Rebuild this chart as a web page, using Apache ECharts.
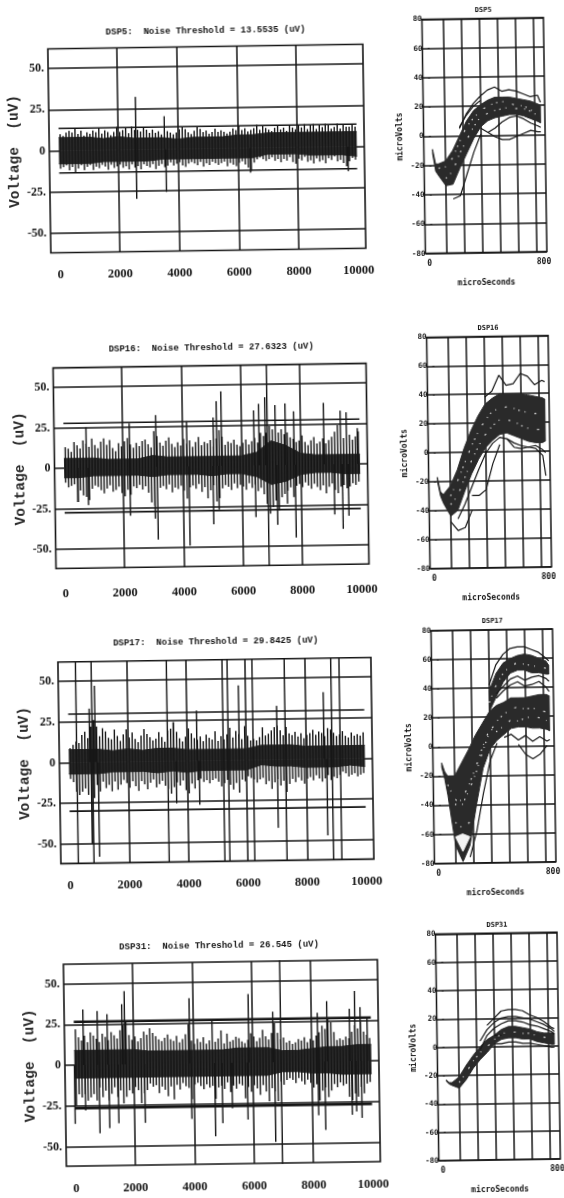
<!DOCTYPE html>
<html><head><meta charset="utf-8">
<style>
html,body{margin:0;padding:0;width:564px;height:1198px;overflow:hidden;background:#fff}
#c{width:564px;height:1198px;transform:rotate(-0.85deg);transform-origin:282px 599px;filter:blur(0.45px)}
</style>
<script src="https://cdn.jsdelivr.net/npm/echarts@6/dist/echarts.min.js"></script>
</head><body><div id="c"></div>
<script>
// ---------- shared axis content ----------
const noiseXTicks = [0,2000,4000,6000,8000,10000];
const noiseXGrid = [2000,4000,6000,8000];
const noiseYTicks = [-50,-25,0,25,50];
const noiseYLabels = {'-50':'-50.','-25':'-25.','0':'0','25':'25.','50':'50.'};
const waveXGrid = [100,225,350,475,600,725];
const waveXTicks = [0,800];
const waveX = [10,30,50,100,150,200,250,300,350,400,450,500,550,600,650,700,750,770];
const coreX = [0,500,1000,1500,2000,2500,3000,3500,4000,4500,5000,5500,6000,6500,7000,7500,8000,8500,9000,9500,10000];

// ---------- DSP5 ----------
const dsp5Threshold = 13.5535;
const dsp5CoreHigh = [8,8,8,7,8,7,7,7,6,7,7,7,8,8,9,9,9,9,9,9,9];
const dsp5CoreLow = [-8,-8,-8,-7,-7,-7,-7,-6,-6,-6,-6,-6,-6,-6,-4,-4,-4,-5,-5,-5,-6];
const dsp5High = [10,9,11,12,11,13,10,12,9,11,10,12,11,13,10,12,11,9,11,14,11,12,13,10,14,12,12,11,13,12,10,12,10,11,9,11,11,10,9,10,12,13,12,10,9,11,13,12,10,11,9,10,12,10,11,10,9,10,12,11,13,11,12,10,11,12,14,11,13,12,11,10,12,13,11,12,10,13,12,11,13,12,14,11,13,14,11,13,12,14,13,11,12,14,11,13,12,12,13,12];
const dsp5Low = [-11,-10,-9,-12,-10,-13,-11,-9,-12,-10,-9,-12,-10,-11,-9,-10,-12,-9,-11,-10,-9,-11,-10,-12,-9,-11,-10,-12,-9,-10,-11,-9,-12,-10,-9,-11,-10,-8,-10,-9,-8,-10,-11,-9,-8,-9,-10,-8,-11,-9,-10,-8,-9,-10,-9,-8,-11,-9,-10,-11,-9,-8,-10,-12,-14,-9,-7,-6,-7,-8,-7,-6,-8,-7,-9,-7,-8,-6,-9,-10,-7,-8,-6,-9,-8,-10,-7,-9,-8,-10,-7,-8,-6,-9,-8,-10,-12,-9,-7,-8];
const dsp5UpX = [2590,3550];
const dsp5UpV = [32,20];
const dsp5DownX = [2590,3590,6420,9700];
const dsp5DownV = [-30,-26,-15,-15];
const dsp5FullX = [];

// ---------- DSP16 ----------
const dsp16Threshold = 27.6323;
const dsp16CoreHigh = [6,6,6,5,5,5,7,6,6,6,6,6,6,8,15,12,7,6,6,6,6];
const dsp16CoreLow = [-6,-6,-5,-5,-5,-5,-6,-5,-5,-5,-6,-5,-5,-7,-12,-10,-6,-5,-5,-6,-6];
const dsp16High = [13,12,10,16,14,12,17,15,13,18,14,12,16,18,14,17,12,10,15,13,16,18,14,12,15,13,16,17,14,12,22,19,15,13,16,18,14,12,15,13,17,14,16,12,15,18,13,15,14,16,12,17,22,18,13,15,14,16,13,12,14,16,13,15,17,14,20,18,20,24,22,24,20,22,19,20,17,16,14,15,18,14,12,15,17,13,14,16,13,15,17,20,24,18,16,22,18,15,17,20];
const dsp16Low = [-9,-12,-11,-10,-21,-14,-17,-18,-20,-13,-11,-12,-14,-16,-13,-11,-15,-14,-12,-16,-18,-14,-17,-12,-13,-11,-14,-12,-16,-22,-24,-15,-13,-12,-14,-11,-16,-13,-14,-12,-15,-20,-13,-12,-14,-11,-16,-13,-20,-15,-12,-22,-20,-14,-12,-13,-15,-11,-14,-12,-13,-15,-11,-14,-12,-16,-14,-18,-24,-30,-26,-22,-28,-20,-18,-16,-14,-20,-13,-12,-14,-11,-13,-15,-12,-14,-16,-13,-18,-14,-12,-16,-18,-14,-13,-15,-14,-12,-13,-11];
const dsp16UpX = [760,2220,3120,4160,5056,5170,5330,6430,6600,6810,7150,7490,7780,8790,9350,9550,9920];
const dsp16UpV = [25,27,32,28,30,40,46,34,38,42,37,38,33,38,33,32,22];
const dsp16DownX = [470,810,2220,3060,3150,4220,5030,5220,6460,6880,7190,7530,7810,9120,9400,9600];
const dsp16DownV = [-21,-23,-30,-32,-45,-49,-36,-27,-32,-55,-37,-24,-45,-31,-40,-32];
const dsp16FullX = [6880];

// ---------- DSP17 ----------
const dsp17Threshold = 29.8425;
const dsp17CoreHigh = [8,8,8,7,8,7,8,8,7,7,7,7,7,9,9,9,8,8,8,8,8];
const dsp17CoreLow = [-7,-7,-7,-6,-6,-6,-7,-6,-7,-6,-6,-6,-6,-3,-4,-4,-5,-5,-5,-4,-5];
const dsp17High = [9,11,13,12,17,19,15,22,26,22,16,21,19,15,14,20,16,13,17,20,15,18,14,12,16,20,17,15,13,14,18,15,12,19,20,24,18,14,12,15,20,17,14,13,15,12,16,14,13,18,12,15,13,16,20,14,18,16,13,21,15,12,13,12,14,20,15,16,18,20,21,18,15,20,16,15,17,14,16,13,15,16,18,15,17,16,14,19,18,16,14,15,17,14,13,16,14,15,14,16];
const dsp17Low = [-10,-12,-18,-20,-18,-16,-20,-16,-22,-14,-18,-12,-16,-14,-18,-12,-17,-14,-11,-13,-16,-12,-15,-18,-12,-14,-17,-13,-11,-16,-14,-12,-15,-17,-20,-16,-13,-15,-12,-18,-20,-14,-17,-12,-11,-13,-12,-14,-12,-11,-13,-16,-14,-12,-15,-18,-14,-20,-12,-13,-10,-11,-12,-14,-12,-11,-15,-13,-18,-14,-12,-16,-13,-20,-15,-12,-14,-11,-13,-15,-12,-11,-13,-10,-12,-14,-12,-10,-13,-11,-12,-10,-8,-9,-11,-10,-9,-11,-10,-9];
const dsp17UpX = [710,900,3540,4330,5760,7040,8620];
const dsp17UpV = [33,47,24,31,46,33,41];
const dsp17DownX = [750,990,3620,4400,7040,8710];
const dsp17DownV = [-50,-58,-26,-27,-42,-47];
const dsp17FullX = [270,800,3340,5220,5390,6230,7320,8890,9170];

// ---------- DSP31 ----------
const dsp31Threshold = 26.545;
const dsp31CoreHigh = [9,9,9,9,9,8,8,8,8,8,8,9,9,9,7,7,8,9,9,10,10];
const dsp31CoreLow = [-8,-8,-8,-8,-8,-8,-8,-8,-8,-8,-8,-8,-8,-8,-6,-6,-7,-7,-8,-8,-8];
const dsp31High = [22,17,15,18,14,20,18,16,14,19,17,15,20,18,16,21,24,26,18,15,17,14,16,20,18,22,19,17,15,14,16,18,15,14,17,13,15,18,24,14,12,15,13,16,12,14,18,13,15,20,12,18,13,14,16,15,13,12,14,18,16,13,15,20,16,14,18,24,18,14,15,12,13,11,12,14,13,15,12,14,13,16,18,22,20,26,24,18,13,14,13,15,14,18,22,20,24,18,16,14];
const dsp31Low = [-25,-18,-20,-18,-22,-20,-18,-22,-14,-20,-16,-22,-18,-14,-20,-16,-24,-20,-16,-18,-14,-16,-24,-18,-16,-12,-14,-13,-18,-14,-16,-20,-14,-22,-13,-16,-12,-14,-15,-22,-13,-12,-14,-16,-13,-15,-14,-22,-15,-14,-16,-12,-18,-14,-16,-13,-14,-22,-15,-18,-14,-16,-20,-14,-18,-24,-16,-18,-24,-12,-14,-11,-10,-11,-13,-10,-12,-14,-11,-13,-16,-14,-24,-18,-16,-22,-18,-14,-16,-13,-15,-14,-22,-24,-20,-22,-16,-20,-14,-13];
const dsp31UpX = [310,790,1120,1620,1710,3890,4650,5880,6700,8200,8520,9280,9460,9640,9870];
const dsp31UpV = [34,33,31,37,45,40,27,42,31,30,37,32,43,33,27];
const dsp31DownX = [0,360,830,1160,1470,2360,3930,4720,4970,5300,5820,6740,8200,8430,9330,9480,9660];
const dsp31DownV = [-36,-28,-42,-39,-36,-36,-34,-45,-37,-28,-35,-49,-33,-42,-33,-31,-35];
const dsp31FullX = [6960];

// ---------- waveforms ----------
const wave5High = [-9,-19,-19,-17,-10,0,10,17,21,24,26,26,26,25,24,23,21,20];
const wave5Low = [-12,-24,-27,-34,-33,-22,-12,-2,6,10,12,13,14,14,13,11,9,8];
const wave5Lines = [
 [null,null,null,null,null,5,15,22,27,31,33,30,31,30,28,26,27,22],
 [null,null,null,null,null,null,null,null,5,2,-1,-3,-3,-1,1,3,2,2],
 [null,null,null,null,null,null,null,null,null,2,5,9,12,13,11,8,6,5],
 [null,null,null,null,-43,-41,-26,-11,1,null,null,null,null,null,null,null,null,null],
 [null,null,null,null,null,6,14,20,24,null,null,null,null,null,null,null,null,null]];
const wave5Gaps = [
 [null,null,-22,-21,-15,-4,6,12,17,20,22,23,22,20,20,17,15,null],
 [null,null,null,-29,-24,-12,-3,6,13,15,17,18,19,18,18,16,13,null]];

const wave16High = [-17,-27,-29,-23,-12,3,15,25,33,37,40,40,40,40,39,38,37,36];
const wave16Low = [-20,-30,-35,-44,-40,-27,-15,-5,3,8,12,13,11,9,7,6,6,7];
const wave16Lines = [
 [null,null,null,null,null,null,null,null,38,42,53,46,47,54,52,46,49,48],
 [null,null,null,-48,-54,-52,-40,null,null,null,null,null,null,null,null,null,null,null],
 [null,null,null,null,null,null,-30,-30,-26,-8,5,null,null,null,null,null,null,null],
 [null,null,null,null,null,null,null,null,null,null,null,9,3,2,3,2,-3,-17],
 [null,null,null,null,-46,-36,-24,-12,-1,6,10,9,6,4,3,4,1,-1]];
const wave16Gaps = [
 [null,null,null,-30,-20,-8,4,14,22,28,30,31,30,28,27,26,26,null],
 [null,null,null,-36,-30,-18,-6,4,12,18,22,22,21,18,16,15,15,null]];

const wave17High = [-11,-17,-20,-20,-11,-2,8,16,24,28,30,33,33,33,34,35,35,34];
const wave17Low = [-14,-22,-33,-68,-79,-68,-40,-15,-2,4,8,12,13,13,12,12,11,10];
const wave17UpperHigh = [null,null,null,null,null,null,null,null,38,50,57,60,62,63,62,60,58,55];
const wave17UpperLow = [null,null,null,null,null,null,null,null,24,34,44,50,52,52,50,50,49,49];
const wave17NotchHigh = [null,null,null,-62,-60,-62,null,null,null,null,null,null,null,null,null,null,null,null];
const wave17NotchLow = [null,null,null,-62,-72,-62,null,null,null,null,null,null,null,null,null,null,null,null];
const wave17Lines = [
 [null,null,null,null,null,null,null,null,42,56,63,67,68,68,66,64,60,58],
 [null,null,null,null,null,null,null,null,null,null,null,null,1,-6,-9,-6,0,null],
 [null,null,null,null,null,-76,-58,-32,-10,2,null,null,null,null,null,null,null,null],
 [null,null,null,null,null,null,null,null,null,33,38,42,44,41,42,44,40,37],
 [null,null,null,null,null,null,null,null,null,null,6,8,4,7,3,6,3,4],
 [null,null,null,null,null,null,null,null,null,36,41,46,48,45,47,48,46,44]];
const wave17Gaps = [
 [null,null,-26,-36,-40,-30,-18,-3,10,17,22,25,27,25,26,24,23,null],
 [null,null,null,-52,-56,-52,null,null,null,null,null,null,null,null,null,null,null,null],
 [null,null,null,-40,-36,-26,-14,0,12,10,14,18,17,19,20,19,17,null],
 [null,null,null,null,null,null,null,null,30,42,50,55,57,56,55,54,53,null]];

const wave31High = [-23,-25,-25,-21,-13,-6,0,5,8,12,14,14,13,12,10,9,9,9];
const wave31Low = [-24,-26,-27,-29,-23,-15,-9,-4,2,5,6,6,5,5,3,2,1,1];
const wave31Lines = [
 [null,null,null,null,null,null,null,15,20,25,26,26,25,22,20,17,13,12],
 [null,null,null,null,null,null,4,12,17,20,21,21,20,19,17,15,12,10],
 [null,null,null,null,null,null,null,null,8,8,null,null,null,null,null,null,null,null],
 [null,null,null,null,null,null,null,null,2,2,3,3,2,2,1,0,-1,-1],
 [null,null,null,null,null,null,-2,8,13,16,18,18,17,15,14,12,10,8]];
const wave31Gaps = [
 [null,null,null,-25,-18,-10,-4,0,5,9,10,10,9,9,7,6,5,null]];

// ---------- panels ----------
const noisePanels = [
 {title:'DSP5:  Noise Threshold = 13.5535 (uV)',top:45.5,bottom:249.5,left:56,right:371,titleX:209,titleY:26,labelGap:16,th:dsp5Threshold,coreHigh:dsp5CoreHigh,coreLow:dsp5CoreLow,high:dsp5High,low:dsp5Low,upX:dsp5UpX,upV:dsp5UpV,downX:dsp5DownX,downV:dsp5DownV,fullX:dsp5FullX,thWidth:1.6},
 {title:'DSP16:  Noise Threshold = 27.6323 (uV)',top:364.6,bottom:565.3,left:56.5,right:369.5,titleX:210,titleY:343,labelGap:19,th:dsp16Threshold,coreHigh:dsp16CoreHigh,coreLow:dsp16CoreLow,high:dsp16High,low:dsp16Low,upX:dsp16UpX,upV:dsp16UpV,downX:dsp16DownX,downV:dsp16DownV,fullX:dsp16FullX,thWidth:1.6},
 {title:'DSP17:  Noise Threshold = 29.8425 (uV)',top:658.7,bottom:860.4,left:57,right:370,titleX:210,titleY:637,labelGap:16,th:dsp17Threshold,coreHigh:dsp17CoreHigh,coreLow:dsp17CoreLow,high:dsp17High,low:dsp17Low,upX:dsp17UpX,upV:dsp17UpV,downX:dsp17DownX,downV:dsp17DownV,fullX:dsp17FullX,thWidth:1.6},
 {title:'DSP31:  Noise Threshold = 26.545 (uV)',top:961,bottom:1163,left:58,right:372,titleX:209,titleY:941,labelGap:16,th:dsp31Threshold,coreHigh:dsp31CoreHigh,coreLow:dsp31CoreLow,high:dsp31High,low:dsp31Low,upX:dsp31UpX,upV:dsp31UpV,downX:dsp31DownX,downV:dsp31DownV,fullX:dsp31FullX,thWidth:2.4}
];
const wavePanels = [
 {title:'DSP5',top:21.4,bottom:255.6,titleY:9,bands:[[wave5High,wave5Low]],lines:wave5Lines,gaps:wave5Gaps},
 {title:'DSP16',top:339.4,bottom:570.7,titleY:327,bands:[[wave16High,wave16Low]],lines:wave16Lines,gaps:wave16Gaps},
 {title:'DSP17',top:632.9,bottom:865.7,titleY:620,bands:[[wave17High,wave17Low],[wave17UpperHigh,wave17UpperLow],[wave17NotchHigh,wave17NotchLow,'#f4f4f4']],lines:wave17Lines,gaps:wave17Gaps},
 {title:'DSP31',top:936.3,bottom:1167.4,titleY:923.5,bands:[[wave31High,wave31Low]],lines:wave31Lines,gaps:wave31Gaps}
];

const INK='#161616', CORE='#2a2a2a';
const serif='"Liberation Serif"', narrow='"Liberation Sans Narrow","Liberation Serif"', mono='"DejaVu Sans Mono"', lmono='"Liberation Mono"';
const grid=[],xAxis=[],yAxis=[],title=[],series=[];

function splitStyle(w){return {show:true,lineStyle:{color:INK,width:w,type:'solid'}};}

noisePanels.forEach(p=>{
  const g=grid.length;
  grid.push({left:p.left,width:p.right-p.left,top:p.top,height:p.bottom-p.top,show:true,borderColor:INK,borderWidth:1.6,backgroundColor:'transparent'});
  xAxis.push({gridIndex:g,type:'value',min:-320,max:10250,
    axisLine:{show:false},axisTick:{show:false,customValues:noiseXGrid},splitLine:splitStyle(1.5),
    axisLabel:{customValues:noiseXTicks,margin:p.labelGap,fontFamily:narrow,fontWeight:'bold',fontSize:12.5,color:INK,hideOverlap:false,showMinLabel:true,showMaxLabel:true,formatter:v=>String(v)}});
  yAxis.push({gridIndex:g,type:'value',min:-62,max:62,name:'Voltage  (uV)',nameLocation:'middle',nameGap:27,nameMoveOverlap:false,
    nameTextStyle:{fontFamily:lmono,fontWeight:'bold',fontSize:14.5,color:'#2a2a2a'},
    axisLine:{show:false},axisTick:{show:false,customValues:noiseYTicks},splitLine:splitStyle(1.5),
    axisLabel:{customValues:noiseYTicks,margin:4,fontFamily:serif,fontWeight:'bold',fontSize:12,color:INK,formatter:v=>noiseYLabels[String(v)]}});
  title.push({text:p.title,left:p.titleX,top:p.titleY-6,textAlign:'center',textStyle:{fontFamily:lmono,fontWeight:'bold',fontSize:9,color:INK}});
  const base={type:'line',xAxisIndex:g,yAxisIndex:g,showSymbol:false,symbol:'none',silent:true,animation:false,connectNulls:false};
  const coreStyle={lineStyle:{color:CORE,width:1},itemStyle:{color:CORE},areaStyle:{color:CORE,opacity:1}};
  series.push({...base,name:'core high',data:coreX.map((x,i)=>[x,p.coreHigh[i]]),...coreStyle});
  series.push({...base,name:'core low',data:coreX.map((x,i)=>[x,p.coreLow[i]]),...coreStyle});
  const pts=[];
  p.high.forEach((h,i)=>{const x=50+100*i;pts.push([x,p.low[i]],[x,h],[x,null]);});
  p.upX.forEach((x,i)=>pts.push([x,0],[x,p.upV[i]],[x,null]));
  p.downX.forEach((x,i)=>pts.push([x,0],[x,p.downV[i]],[x,null]));
  p.fullX.forEach(x=>pts.push([x,-90],[x,90],[x,null]));
  series.push({...base,name:'trace',data:pts,clip:true,lineStyle:{color:INK,width:1.4}});
  [p.th,-p.th].forEach(t=>series.push({...base,name:'threshold',data:[[0,t],[10000,t]],lineStyle:{color:INK,width:p.thWidth}}));
});

wavePanels.forEach(p=>{
  const g=grid.length;
  grid.push({left:430.5,width:121.5,top:p.top,height:p.bottom-p.top,show:true,borderColor:INK,borderWidth:1.5,backgroundColor:'transparent'});
  xAxis.push({gridIndex:g,type:'value',min:-51,max:800,name:'microSeconds',nameLocation:'middle',nameGap:26,
    nameTextStyle:{fontFamily:mono,fontWeight:'bold',fontSize:8,color:INK},
    axisLine:{show:false},axisTick:{show:false,customValues:waveXGrid},splitLine:splitStyle(1.5),
    axisLabel:{customValues:waveXTicks,margin:6,padding:[0,6,0,0],fontFamily:mono,fontWeight:'bold',fontSize:8,color:INK,hideOverlap:false,showMinLabel:true,showMaxLabel:true}});
  yAxis.push({gridIndex:g,type:'value',min:-80,max:80,interval:20,name:'microVolts',nameLocation:'middle',nameGap:20,
    nameTextStyle:{fontFamily:mono,fontWeight:'bold',fontSize:8,color:INK},
    axisLine:{show:false},axisTick:{show:true,length:2,lineStyle:{color:INK}},splitLine:splitStyle(1.5),
    axisLabel:{margin:0,fontFamily:mono,fontWeight:'bold',fontSize:7.5,color:INK,showMinLabel:true,showMaxLabel:true}});
  title.push({text:p.title,left:487,top:p.titleY-4,textAlign:'center',textStyle:{fontFamily:mono,fontWeight:'bold',fontSize:7,color:INK}});
  const base={xAxisIndex:g,yAxisIndex:g,silent:true,animation:false};
  p.bands.forEach(b=>{
    const fill=b[2]||CORE;
    series.push({...base,type:'custom',name:'waveform band',data:[[0]],clip:true,
      renderItem:(params,api)=>{
        const up=[],dn=[];
        waveX.forEach((x,i)=>{
          if(b[0][i]==null)return;
          up.push(api.coord([x,b[0][i]]));
          dn.unshift(api.coord([x,b[1][i]]));
        });
        return {type:'polygon',shape:{points:up.concat(dn)},style:{fill:fill,stroke:fill,lineWidth:1}};
      }});
  });
  p.lines.forEach(l=>series.push({...base,type:'line',name:'waveform',symbol:'none',showSymbol:false,connectNulls:false,
    data:waveX.map((x,i)=>[x,l[i]]),lineStyle:{color:INK,width:1.2}}));
  p.gaps.forEach(l=>series.push({...base,type:'line',name:'waveform gap',symbol:'none',showSymbol:false,connectNulls:false,
    data:waveX.map((x,i)=>[x,l[i]]),lineStyle:{color:'#dcdcdc',width:1.2,type:[1.5,5,1,9,2,7,1,4]}}));
});

const chart=echarts.init(document.getElementById('c'),null,{renderer:'canvas',width:564,height:1198});
chart.setOption({animation:false,backgroundColor:'#fff',title,grid,xAxis,yAxis,series});
</script></body></html>
